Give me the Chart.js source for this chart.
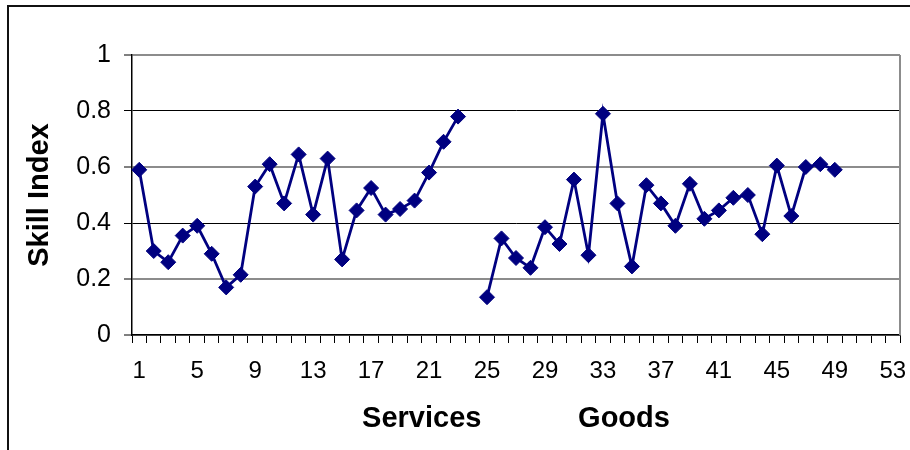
<!DOCTYPE html>
<html>
<head>
<meta charset="utf-8">
<title>Skill Index</title>
<script src="https://cdn.jsdelivr.net/npm/chart.js@4.4.1/dist/chart.umd.min.js"></script>
<style>
  html, body { margin: 0; padding: 0; background: #fff; overflow: hidden; }
  #wrap { position: relative; width: 910px; height: 450px; }
  /* outer chart box, only top and left edges fall inside the view */
  #frame {
    position: absolute; left: 7px; top: 5px; width: 1000px; height: 1000px;
    border-left: 2px solid #111; border-top: 2px solid #111;
  }
  #chart { position: absolute; left: 0; top: 0; }
</style>
</head>
<body>
<div id="wrap">
  <div id="frame"></div>
  <canvas id="chart" width="910" height="450"></canvas>
</div>
<script>
// ---------- datos ----------
const nCategorias = 53;
const categorias = Array.from({ length: nCategorias }, (_, i) => String(i + 1));

// índice por sector (servicios 1-23, bienes 25-49)
const servicios = [
  0.59, 0.30, 0.26, 0.355, 0.39, 0.29, 0.17, 0.215, 0.53, 0.61,
  0.47, 0.645, 0.43, 0.63, 0.27, 0.445, 0.525, 0.43, 0.45, 0.48,
  0.58, 0.69, 0.78
];
const bienes = [
  0.135, 0.345, 0.275, 0.24, 0.385, 0.325, 0.555, 0.285, 0.79, 0.47,
  0.245, 0.535, 0.47, 0.39, 0.54, 0.415, 0.445, 0.49, 0.50, 0.36,
  0.605, 0.425, 0.60, 0.61, 0.59
];
const yTicks = [0, 0.2, 0.4, 0.6, 0.8, 1];

// serie completa: hueco en la categoría 24, vacío al final
const serie = [...servicios, null, ...bienes];
while (serie.length < nCategorias) serie.push(null);

// ---------- borde derecho del área de trazado ----------
const marcoArea = {
  id: 'marcoArea',
  beforeDatasetsDraw(chart) {
    const { ctx, chartArea: a } = chart;
    ctx.save();
    ctx.strokeStyle = '#8c8c8c';
    ctx.lineWidth = 2;
    ctx.beginPath();
    ctx.moveTo(a.right, a.top);
    ctx.lineTo(a.right, a.bottom);
    ctx.stroke();
    ctx.restore();
  }
};

const font = "'Liberation Sans', Arial, sans-serif";

new Chart(document.getElementById('chart'), {
  type: 'line',
  data: {
    labels: categorias,
    datasets: [{
      label: 'Skill Index',
      data: serie,
      borderColor: '#000080',
      backgroundColor: '#000080',
      borderWidth: 2.8,
      pointStyle: 'rectRot',
      pointRadius: 7.5,
      pointBorderWidth: 1,
      pointBackgroundColor: '#000080',
      pointBorderColor: '#000080',
      tension: 0,
      spanGaps: false
    }]
  },
  options: {
    responsive: false,
    animation: false,
    layout: { padding: { top: 55, right: 10, left: 0, bottom: 0 } },
    plugins: {
      legend: { display: false },
      tooltip: { enabled: false }
    },
    scales: {
      x: {
        type: 'category',
        offset: true,
        afterFit: (s) => { s.height = 115; s.paddingLeft = 0; s.paddingRight = 0; },
        border: { color: '#000', width: 1.5 },
        grid: {
          offset: true,
          drawOnChartArea: false,
          drawTicks: true,
          tickLength: 8,
          tickColor: '#000',
          tickWidth: 1
        },
        ticks: {
          autoSkip: false,
          maxRotation: 0,
          padding: 14,
          color: '#000',
          font: { family: font, size: 24 },
          callback: (v, i) => (i % 4 === 0 ? categorias[i] : '')
        },
        title: {
          display: true,
          text: 'Services            Goods',
          color: '#000',
          font: { family: font, size: 29, weight: 'bold' },
          padding: { top: 0, bottom: 14 }
        }
      },
      y: {
        min: 0,
        max: 1,
        afterFit: (s) => { s.width = 132; },
        afterBuildTicks: (s) => { s.ticks = yTicks.map(v => ({ value: v })); },
        border: { color: '#000', width: 1.5 },
        grid: {
          color: (c) => ([0.8, 0.4].includes(+c.tick.value.toFixed(1)) ? '#000' : '#8c8c8c'),
          lineWidth: (c) => ([0.8, 0.4].includes(+c.tick.value.toFixed(1)) ? 1 : 2),
          tickLength: 8,
          tickColor: '#000',
          tickWidth: 1
        },
        ticks: {
          padding: 13,
          color: '#000',
          font: { family: font, size: 25 },
          callback: (v) => String(+v.toFixed(1))
        },
        title: {
          display: true,
          text: 'Skill Index',
          color: '#000',
          font: { family: font, size: 29, weight: 'bold' },
          padding: { top: 23, bottom: 0 }
        }
      }
    }
  },
  plugins: [marcoArea]
});
</script>
</body>
</html>
